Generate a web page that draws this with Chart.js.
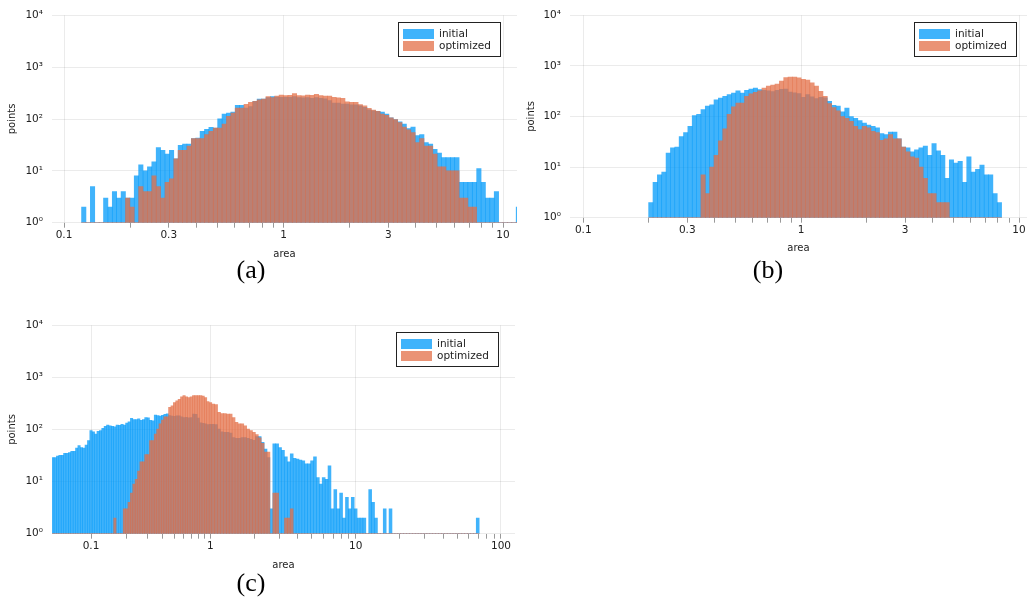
<!DOCTYPE html>
<html>
<head>
<meta charset="utf-8">
<script src="https://cdn.jsdelivr.net/npm/chart.js@4.4.1/dist/chart.umd.min.js"></script>
<style>
  body { margin: 0; background: #fff; }
  #page { position: relative; width: 1027px; height: 603px; overflow: hidden; }
  canvas { position: absolute; }
  .cap { position: absolute; font: 26px "Liberation Serif", serif; color: #000; line-height: 1; transform: translate(-50%, -50%); }
</style>
</head>
<body>
<div id="page">
  <canvas id="chartA" width="520" height="264" style="left:0;top:0"></canvas>
  <canvas id="chartB" width="509" height="258" style="left:518px;top:0"></canvas>
  <canvas id="chartC" width="520" height="265" style="left:0;top:310px"></canvas>
  <div class="cap" style="left:251px;top:270px">(a)</div>
  <div class="cap" style="left:768px;top:270px">(b)</div>
  <div class="cap" style="left:251px;top:583px">(c)</div>
</div>
<script>
// all histograms use bins of equal width in log10(area)
const binStep = 0.02;
const firstEdgeA = -0.92;
const firstEdgeB = -0.70;
const firstEdgeC = -1.33;

const seriesNames = ['initial', 'optimized'];

// (a) counts per bin
const initialA = [
  2, 0, 5, 0, 0, 3, 2, 4, 3, 4,
  3, 3, 8, 13, 10, 12, 15, 28, 25, 21,
  25, 17, 31, 33, 33, 42, 43, 58, 63, 69,
  67, 101, 124, 130, 136, 183, 183, 162, 174, 218,
  243, 243, 258, 270, 265, 262, 263, 263, 270, 258,
  255, 260, 250, 258, 250, 245, 227, 202, 202, 194,
  194, 188, 188, 180, 167, 150, 144, 140, 136, 124,
  105, 97, 88, 80, 65, 70, 48, 50, 35, 33,
  26, 22, 18, 18, 18, 18, 6, 6, 6, 6,
  11, 6, 3, 3, 4, 0, 0, 0, 0, 2
];
const optimizedA = [
  0, 0, 0, 0, 0, 0, 0, 0, 0, 0,
  3, 2, 0, 5, 4, 4, 8, 5, 3, 6,
  7, 17, 25, 25, 30, 42, 42, 42, 50, 58,
  67, 67, 80, 112, 130, 162, 162, 192, 210, 218,
  234, 243, 270, 258, 278, 290, 282, 285, 310, 282,
  280, 290, 285, 300, 282, 278, 276, 262, 255, 250,
  215, 210, 210, 190, 180, 160, 148, 140, 125, 118,
  105, 97, 85, 70, 62, 55, 35, 42, 30, 30,
  21, 12, 12, 10, 10, 10, 3, 3, 2, 2,
  0, 0, 0, 0, 0, 0, 0, 0, 0, 0
];

// (b)
const initialB = [
  2, 5, 7, 8, 19, 24, 25, 40, 48, 64,
  104, 110, 137, 160, 171, 214, 230, 250, 270, 290,
  320, 290, 330, 348, 365, 340, 330, 320, 310, 330,
  345, 350, 305, 295, 285, 240, 270, 245, 225, 240,
  235, 200, 166, 160, 124, 147, 100, 92, 83, 74,
  68, 64, 60, 46, 44, 49, 49, 36, 25, 24,
  20, 22, 24, 26, 17, 29, 21, 17, 6, 14,
  12, 13, 5, 16, 8, 9, 11, 7, 7, 3,
  2
];
const optimizedB = [
  0, 0, 0, 0, 0, 0, 0, 0, 0, 0,
  0, 0, 7, 3, 10, 17, 33, 57, 110, 155,
  185, 185, 250, 280, 300, 320, 365, 400, 420, 435,
  500, 590, 600, 600, 580, 540, 525, 465, 400, 315,
  250, 180, 150, 130, 100, 92, 80, 64, 55, 64,
  60, 51, 48, 34, 36, 44, 36, 36, 25, 20,
  16, 15, 10, 6, 3, 3, 2, 2, 2, 0,
  0, 0, 0, 0, 0, 0, 0, 0, 0, 0,
  0
];

// (c)
const initialC = [
  29, 29, 31, 32, 32, 35, 35, 36, 38, 38,
  44, 49, 45, 44, 50, 61, 95, 90, 82, 92,
  95, 105, 115, 122, 118, 115, 112, 122, 120, 125,
  122, 133, 140, 163, 155, 155, 160, 150, 155, 170,
  168, 150, 147, 190, 185, 180, 188, 195, 200, 185,
  180, 178, 183, 183, 176, 170, 172, 168, 170, 198,
  195, 166, 135, 131, 128, 124, 126, 126, 124, 102,
  90, 88, 88, 85, 70, 68, 68, 70, 70, 68,
  65, 62, 73, 73, 57, 42, 29, 3, 53, 53,
  45, 40, 30, 24, 34, 28, 27, 26, 25, 22,
  22, 25, 30, 12, 9, 12, 11, 20, 3, 7,
  3, 6, 2, 5, 3, 5, 3, 2, 2, 2,
  0, 7, 4, 2, 0, 0, 3, 0, 3, 0,
  0, 0, 0, 0, 0, 0, 0, 0, 0, 0,
  0, 0, 0, 0, 0, 0, 0, 0, 0, 0,
  0, 0, 0, 0, 0, 0, 0, 0, 2
];
const optimizedC = [
  0, 0, 0, 0, 0, 0, 0, 0, 0, 0,
  0, 0, 0, 0, 0, 0, 0, 0, 0, 0,
  0, 0, 0, 0, 0, 0, 2, 0, 0, 0,
  3, 3, 4, 6, 9, 11, 16, 24, 24, 33,
  33, 61, 61, 82, 102, 128, 152, 176, 176, 265,
  286, 330, 356, 380, 425, 450, 425, 410, 425, 450,
  450, 450, 450, 440, 410, 345, 330, 308, 300, 213,
  202, 202, 198, 198, 170, 137, 128, 128, 118, 102,
  95, 88, 80, 69, 54, 37, 37, 0, 6, 6,
  0, 0, 2, 2, 3, 0, 0, 0, 0, 0,
  0, 0, 0, 0, 0, 0, 0, 0, 0, 0,
  0, 0, 0, 0, 0, 0, 0, 0, 0, 0,
  0, 0, 0, 0, 0, 0, 0, 0, 0, 0,
  0, 0, 0, 0, 0, 0, 0, 0, 0, 0,
  0, 0, 0, 0, 0, 0, 0, 0, 0, 0,
  0, 0, 0, 0, 0, 0, 0, 0, 0
];

// axis ticks
const xTicksAB = [0.1, 0.2, 0.3, 0.4, 0.5, 0.6, 0.7, 0.8, 0.9, 1, 2, 3, 4, 5, 6, 7, 8, 9, 10];
const xTicksC = [0.1, 0.2, 0.3, 0.4, 0.5, 0.6, 0.7, 0.8, 0.9, 1, 2, 3, 4, 5, 6, 7, 8, 9, 10,
  20, 30, 40, 50, 60, 70, 80, 90, 100];
const xLabelsAB = [0.1, 0.3, 1, 3, 10];
const xLabelsC = [0.1, 1, 10, 100];
const yTicks = [1, 10, 100, 1000, 10000];
const yLabels = ['10⁰', '10¹', '10²', '10³', '10⁴'];

const BLUE = 'rgba(0, 154, 250, 0.75)';
const ORANGE = 'rgba(227, 111, 71, 0.75)';
const GRID = 'rgba(0, 0, 0, 0.08)';
const FONT = '"DejaVu Sans", sans-serif';

function isDecade(v) {
  const l = Math.log10(v);
  return Math.abs(l - Math.round(l)) < 1e-6;
}

// log axis whose decades below the knee are drawn narrower (panel c)
class KneeLogScale extends Chart.LogarithmicScale {
  kneeParts() {
    const a = Math.log10(this.min), b = Math.log10(this.max);
    const k = Math.log10(this.options.knee), r = this.options.lowRatio;
    return { a, b, k, r, total: (k - a) * r + (b - k) };
  }
  getPixelForValue(value) {
    if (value === undefined || value === 0) value = this.min;
    if (value === null || isNaN(value)) return NaN;
    const { a, k, r, total } = this.kneeParts();
    const u = Math.log10(value);
    const dec = u < k ? (u - a) * r / total : ((k - a) * r + (u - k)) / total;
    return this.getPixelForDecimal(dec);
  }
  getValueForPixel(pixel) {
    const d = this.getDecimalForPixel(pixel);
    const { a, k, r, total } = this.kneeParts();
    const low = (k - a) * r / total;
    const u = d < low ? a + d * total / r : k + d * total - (k - a) * r;
    return Math.pow(10, u);
  }
}
KneeLogScale.id = 'kneelog';
KneeLogScale.defaults = Chart.LogarithmicScale.defaults;
Chart.register(KneeLogScale);

const boxLegend = {
  id: 'boxLegend',
  afterDraw(chart, args, opts) {
    const { ctx, chartArea } = chart;
    const w = 103, h = 35;
    const x = Math.round(chartArea.right - opts.right - w);
    const y = Math.round(chartArea.top + opts.top);
    ctx.save();
    ctx.fillStyle = '#fff';
    ctx.fillRect(x, y, w, h);
    ctx.strokeStyle = '#222';
    ctx.lineWidth = 1;
    ctx.strokeRect(x + 0.5, y + 0.5, w - 1, h - 1);
    ctx.font = '10.5px ' + FONT;
    ctx.textBaseline = 'middle';
    chart.data.datasets.forEach((ds, i) => {
      const rowY = y + 7 + i * 12;
      ctx.fillStyle = ds.backgroundColor;
      ctx.fillRect(x + 5, rowY, 31, 10);
      ctx.fillStyle = '#222';
      ctx.fillText(ds.label, x + 41, rowY + 5.5);
    });
    ctx.restore();
  }
};

function histChart(id, p) {
  const centres = p.initial.map((_, k) => Math.pow(10, p.firstEdge + binStep * (k + 0.5)));
  const series = [p.initial, p.optimized];
  const colours = [BLUE, ORANGE];
  return new Chart(document.getElementById(id), {
    type: 'bar',
    data: {
      datasets: series.map((counts, i) => ({
        label: seriesNames[i],
        data: counts.map((c, k) => ({ x: centres[k], y: c })),
        backgroundColor: colours[i],
        borderWidth: 0,
        stack: 'hist',           // same slot for both series, values not summed (y.stacked false)
        barThickness: 'flex',
        barPercentage: 1,
        categoryPercentage: 1,
        order: 2 - i
      }))
    },
    options: {
      responsive: false,
      animation: false,
      devicePixelRatio: 1,
      layout: { padding: { top: p.padTop, right: p.padRight, left: 0, bottom: 0 } },
      plugins: {
        legend: { display: false },
        tooltip: { enabled: false },
        boxLegend: { right: p.legendRight, top: p.legendTop }
      },
      scales: {
        x: {
          type: p.xType,
          min: p.xMin,
          max: p.xMax,
          knee: 1,
          lowRatio: p.lowRatio,
          offset: false,
          border: { display: false },
          grid: {
            offset: false,
            color: c => (c.tick && isDecade(c.tick.value)) ? GRID : 'rgba(0,0,0,0)',
            tickColor: 'rgba(0,0,0,0.4)',
            tickLength: 5
          },
          ticks: {
            autoSkip: false,
            maxRotation: 0,
            minRotation: 0,
            padding: 1,
            color: '#222',
            font: { family: FONT, size: 10.5 },
            callback: v => p.xLabels.some(l => Math.abs(l - v) < 1e-9) ? String(v) : ''
          },
          afterBuildTicks: s => { s.ticks = p.xTicks.map(v => ({ value: v })); },
          afterFit: s => { s.height = p.xHeight; },
          title: {
            display: true, text: 'area', color: '#222',
            font: { family: FONT, size: 10 },
            padding: { top: 0, bottom: 4 }
          }
        },
        y: {
          type: 'logarithmic',
          min: 1,
          max: 10000,
          stacked: false,
          beginAtZero: false,
          border: { display: false },
          grid: { color: GRID, drawTicks: false },
          ticks: {
            padding: 9,
            color: '#222',
            font: { family: FONT, size: 10.5 },
            callback: v => { const i = yTicks.indexOf(v); return i >= 0 ? yLabels[i] : ''; }
          },
          afterBuildTicks: s => { s.ticks = yTicks.map(v => ({ value: v })); },
          afterFit: s => { s.width = 52; },
          title: {
            display: true, text: 'points', color: '#222',
            font: { family: FONT, size: 10 },
            padding: { top: p.yTitlePad, bottom: 0 }
          }
        }
      }
    },
    plugins: [boxLegend]
  });
}

histChart('chartA', {
  initial: initialA, optimized: optimizedA, firstEdge: firstEdgeA,
  xType: 'logarithmic', xMin: 0.08817, xMax: 11.58,
  xTicks: xTicksAB, xLabels: xLabelsAB,
  padTop: 12.7, padRight: 3, xHeight: 41.3, yTitlePad: 6.7,
  legendRight: 16.3, legendTop: 6.3
});

histChart('chartB', {
  initial: initialB, optimized: optimizedB, firstEdge: firstEdgeB,
  xType: 'logarithmic', xMin: 0.0869, xMax: 10.88,
  xTicks: xTicksAB, xLabels: xLabelsAB,
  padTop: 8.9, padRight: 0, xHeight: 40.3, yTitlePad: 7.7,
  legendRight: 10, legendTop: 6.4
});

histChart('chartC', {
  initial: initialC, optimized: optimizedC, firstEdge: firstEdgeC,
  xType: 'kneelog', xMin: 0.0471, xMax: 124.9, lowRatio: 0.821,
  xTicks: xTicksC, xLabels: xLabelsC,
  padTop: 14, padRight: 5, xHeight: 41.3, yTitlePad: 6.7,
  legendRight: 16, legendTop: 6.7
});
</script>
</body>
</html>
